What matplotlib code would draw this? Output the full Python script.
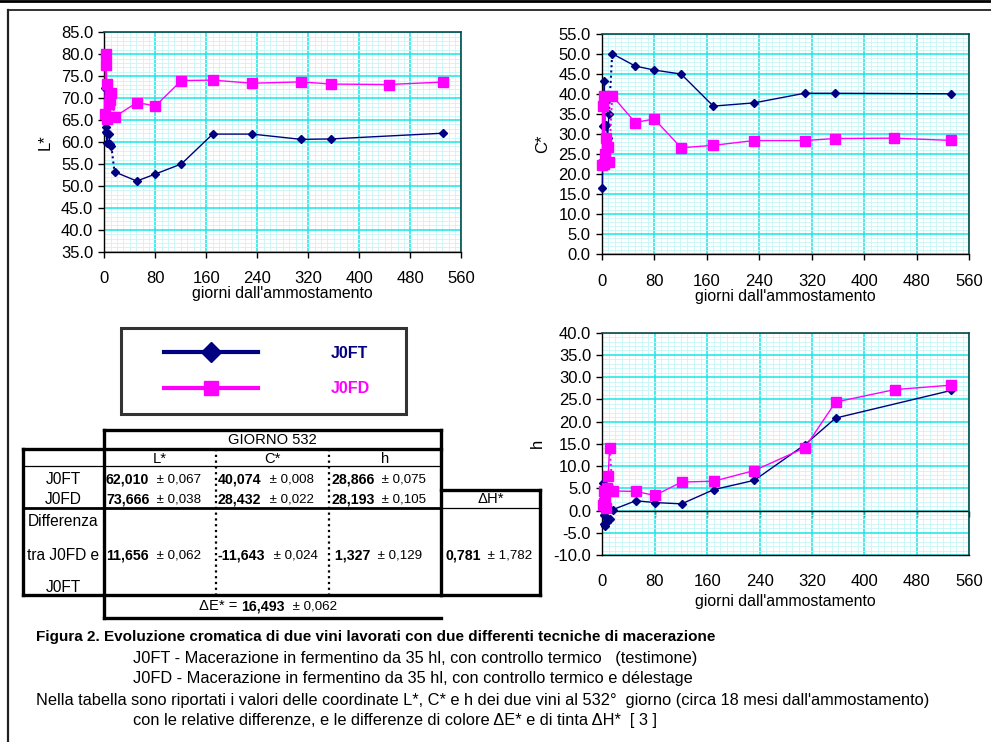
import matplotlib
matplotlib.use('Agg')
import matplotlib.pyplot as plt
from matplotlib.lines import Line2D
from matplotlib.legend_handler import HandlerLine2D
from matplotlib.ticker import MultipleLocator, FormatStrFormatter

plt.rcParams['font.family'] = ['Liberation Sans', 'DejaVu Sans']

# ---- data: days after crushing and colour coordinates of the two wines ----
days_ft = [1, 2, 3, 4, 5, 7, 9, 11, 16, 51, 80, 121, 170, 232, 309, 356, 532]
days_fd = [1, 2, 3, 4, 5, 7, 9, 11, 16, 51, 80, 121, 170, 232, 309, 356, 446, 532]

L_ft = [72.3, 63.5, 62.2, 59.7, 62.0, 61.8, 59.5, 59.1, 53.2, 51.1, 52.7, 55.0,
        61.8, 61.8, 60.6, 60.7, 62.01]
L_fd = [66.4, 80.0, 77.5, 73.2, 65.2, 68.6, 69.6, 71.1, 65.7, 69.0, 68.2, 74.0,
        74.1, 73.4, 73.7, 73.2, 73.1, 73.67]
C_ft = [16.5, 32.0, 38.0, 43.3, 32.1, 32.3, 29.0, 35.0, 50.1, 47.0, 46.0, 45.0,
        37.0, 37.8, 40.2, 40.2, 40.07]
C_fd = [22.3, 37.0, 22.5, 39.5, 25.0, 29.0, 26.9, 23.0, 39.6, 32.9, 33.8, 26.6,
        27.2, 28.4, 28.4, 28.9, 29.0, 28.43]
h_ft = [6.3, -1.0, -3.0, -3.5, -1.5, -2.5, -2.0, -1.8, 0.2, 2.2, 1.8, 1.5,
        4.7, 6.8, 14.8, 20.8, 27.0]
h_fd = [1.2, 1.6, 4.5, 2.2, 0.5, 5.0, 7.7, 14.0, 4.4, 4.3, 3.4, 6.4,
        6.6, 9.0, 14.1, 24.4, 27.2, 28.2]
GAP = 7  # segment between this sample and the next one is drawn dotted

series_names = ['J0FT', 'J0FD']
table_cols = ['L*', 'C*', 'h']
vals_ft = [('62,010', '0,067'), ('40,074', '0,008'), ('28,866', '0,075')]
vals_fd = [('73,666', '0,038'), ('28,432', '0,022'), ('28,193', '0,105')]
vals_diff = [('11,656', '0,062'), ('-11,643', '0,024'), (' 1,327', '0,129')]
delta_H = ('0,781', '1,782')
delta_E = ('16,493', '0,062')
table_day = 'GIORNO 532'

caption = [
    ('Figura 2. Evoluzione cromatica di due vini lavorati con due differenti tecniche di macerazione', 36, True),
    ('J0FT - Macerazione in fermentino da 35 hl, con controllo termico   (testimone)', 133, False),
    ('J0FD - Macerazione in fermentino da 35 hl, con controllo termico e délestage', 133, False),
    ("Nella tabella sono riportati i valori delle coordinate L*, C* e h dei due vini al 532°  giorno (circa 18 mesi dall'ammostamento)", 36, False),
    ('con le relative differenze, e le differenze di colore \u0394E* e di tinta \u0394H*  [ 3 ]', 133, False),
]

NAVY = '#000080'
MAG = '#FF00FF'
W, H = 991, 742
fig = plt.figure(figsize=(W / 100, H / 100), dpi=100)


def box(l, t, r, b):
    return [l / W, 1 - b / H, (r - l) / W, (b - t) / H]


def plot_series(ax, x, y, color, marker, ms):
    ax.plot(x[:GAP + 1], y[:GAP + 1], color=color, lw=1.0, marker=marker, ms=ms,
            zorder=3, clip_on=False)
    ax.plot(x[GAP:GAP + 2], y[GAP:GAP + 2], color=color, lw=1.5, ls=(0, (1, 1.5)),
            zorder=3)
    ax.plot(x[GAP + 1:], y[GAP + 1:], color=color, lw=1.0, marker=marker, ms=ms,
            zorder=3, clip_on=False)


def panel(rect, ylim, ylabel, yft, yfd, zero_axis=False):
    ax = fig.add_axes(rect)
    ax.set_xlim(0, 560)
    ax.set_ylim(*ylim)
    ax.xaxis.set_major_locator(MultipleLocator(80))
    ax.xaxis.set_minor_locator(MultipleLocator(10))
    ax.yaxis.set_major_locator(MultipleLocator(5))
    ax.yaxis.set_minor_locator(MultipleLocator(1))
    ax.yaxis.set_major_formatter(FormatStrFormatter('%.1f'))
    ax.set_axisbelow(True)
    ax.grid(which='minor', color='#C6F6F6', lw=0.6)
    ax.grid(which='major', color='#19E6E6', lw=1.1)
    for s in ('top', 'right'):
        ax.spines[s].set_color('#0A4A4A')
        ax.spines[s].set_linewidth(1.2)
    for s in ('left', 'bottom'):
        ax.spines[s].set_color('black')
        ax.spines[s].set_linewidth(1.0)
    ax.tick_params(which='minor', length=0)
    ax.tick_params(axis='y', which='major', length=4, width=1, pad=4, labelsize=12,
                   direction='out')
    ax.tick_params(axis='x', which='major', length=4, width=1, pad=10, labelsize=12,
                   direction='out')
    ax.set_xlabel("giorni dall'ammostamento", fontsize=11.4, labelpad=0)
    ax.set_ylabel(ylabel, fontsize=12, labelpad=6)
    if zero_axis:
        ax.tick_params(axis='x', which='major', length=0, pad=14)
        ax.set_xlabel("giorni dall'ammostamento", fontsize=11.4, labelpad=3)
        ax.axhline(0, color='black', lw=1.0, zorder=2)
        lo, hi = ylim
        sec = ax.secondary_xaxis((0 - lo) / (hi - lo))
        sec.xaxis.set_major_locator(MultipleLocator(80))
        sec.tick_params(length=4, width=1, labelbottom=False, direction='out')
        sec.spines['bottom'].set_visible(False)
    plot_series(ax, days_ft, yft, NAVY, 'D', 4.5)
    plot_series(ax, days_fd, yfd, MAG, 's', 6.5)
    return ax


panel(box(104.3, 32.3, 461.3, 251.7), (35, 85), 'L*', L_ft, L_fd)
panel(box(601.7, 34.0, 969.3, 254.3), (0, 55), 'C*', C_ft, C_fd)
panel(box(602.3, 332.7, 969.3, 555.0), (-10, 40), 'h', h_ft, h_fd, zero_axis=True)

# ---- legend ----
handles = [Line2D([], [], color=NAVY, lw=3, marker='D', ms=10),
           Line2D([], [], color=MAG, lw=3, marker='s', ms=10)]
leg = fig.legend(handles, series_names, loc='upper left',
                 bbox_to_anchor=(121 / W, 1 - 412 / H, 285 / W, 84 / H), mode='expand',
                 borderaxespad=0, frameon=True, fancybox=False,
                 handlelength=7.5, handletextpad=4.55, labelspacing=1.3, borderpad=1.1,
                 handler_map={hd: HandlerLine2D(xpad=1.6) for hd in handles},
                 prop={'weight': 'bold', 'size': 11.5})
leg.get_frame().set_edgecolor('black')
leg.get_frame().set_linewidth(2.2)
for txt, c in zip(leg.get_texts(), [NAVY, MAG]):
    txt.set_color(c)

# ---- overlay in pixel coordinates for page frame, table and caption ----
ov = fig.add_axes([0, 0, 1, 1], zorder=-1)
ov.set_xlim(0, W)
ov.set_ylim(H, 0)
ov.axis('off')

ov.plot([0, W], [1, 1], color='black', lw=2.0)
ov.plot([8, W], [9.5, 9.5], color='#222222', lw=1.3)
ov.plot([8, 8], [9.5, H], color='#222222', lw=1.6)

THICK = 2.4
THIN = 0.9


def hline(y, x0, x1, lw=THICK, ls='-'):
    ov.plot([x0, x1], [y, y], color='black', lw=lw, ls=ls, solid_capstyle='projecting')


def vline(x, y0, y1, lw=THICK, ls='-'):
    ov.plot([x, x], [y0, y1], color='black', lw=lw, ls=ls, solid_capstyle='projecting')


xL, xA, xB, xC, xR, xD = 23, 104, 216, 329, 441, 540
yG, yT, yHd, yFD, yDH, yDf, yE = 430, 449, 466, 508, 490, 595, 618

# GIORNO header box
hline(yG, xA, xR); vline(xA, yG, yE); vline(xR, yG, yDf)
# main table
hline(yT, xL, xR); vline(xL, yT, yDf); hline(yDf, xL, xR)
hline(yHd, xL, xR, lw=THIN)
hline(yFD, xL, xR, lw=2.0)
vline(xB, yT, yDf, lw=1.6, ls=(0, (1, 1.6)))
vline(xC, yT, yDf, lw=1.6, ls=(0, (1, 1.6)))
# delta H box
hline(yDH, xR, xD); vline(xD, yDH, yDf); hline(yDf, xR, xD)
hline(yFD, xR, xD, lw=THIN)
# delta E row
hline(yE, xA, xR)

LF = 11.2   # labels
HF = 10.6   # header row
BF = 10.2   # bold values
SF = 9.6    # uncertainties
ov.text((xA + xR) / 2, (yG + yT) / 2 + 0.5, table_day, ha='center', va='center', fontsize=HF)
for name, xc in zip(table_cols, [(xA + xB) / 2, (xB + xC) / 2, (xC + xR) / 2]):
    ov.text(xc, (yT + yHd) / 2 + 1.5, name, ha='center', va='center', fontsize=HF)


def valtext(x, y, pair):
    t = ov.text(x, y, pair[0], ha='left', va='center', fontsize=BF, fontweight='bold')
    ov.annotate('  \u00b1 ' + pair[1], xy=(1, 0.5), xycoords=t, ha='left', va='center',
                fontsize=SF)


y_ft, y_fd, y_diff = 479, 499, 555
lab_x = (xL + xA) / 2
ov.text(lab_x, y_ft, series_names[0], ha='center', va='center', fontsize=LF)
ov.text(lab_x, y_fd, series_names[1], ha='center', va='center', fontsize=LF)
ov.text(lab_x, 522, 'Differenza', ha='center', va='center', fontsize=LF)
ov.text(lab_x, y_diff, 'tra J0FD e', ha='center', va='center', fontsize=LF)
ov.text(lab_x, 587, 'J0FT', ha='center', va='center', fontsize=LF)
ov.text((xR + xD) / 2, y_fd, '\u0394H*', ha='center', va='center', fontsize=HF)

for x0, a, b, c in zip([xA + 2, xB + 2, xC + 2], vals_ft, vals_fd, vals_diff):
    valtext(x0, y_ft, a)
    valtext(x0, y_fd, b)
    valtext(x0, y_diff, c)
valtext(xR + 4, y_diff, delta_H)

t0 = ov.text(199, 606.5, '\u0394E* = ', ha='left', va='center', fontsize=HF)
t1 = ov.annotate(delta_E[0], xy=(1, 0.5), xycoords=t0, ha='left', va='center',
                 fontsize=BF, fontweight='bold')
ov.annotate('  \u00b1 ' + delta_E[1], xy=(1, 0.5), xycoords=t1, ha='left', va='center',
            fontsize=SF)

for i, (line, x, bold) in enumerate(caption):
    ov.text(x, 637 + 21 * i, line, ha='left', va='center',
            fontsize=11.0 if bold else 11.8,
            fontweight='bold' if bold else 'normal')

fig.savefig('out.png', dpi=100)
